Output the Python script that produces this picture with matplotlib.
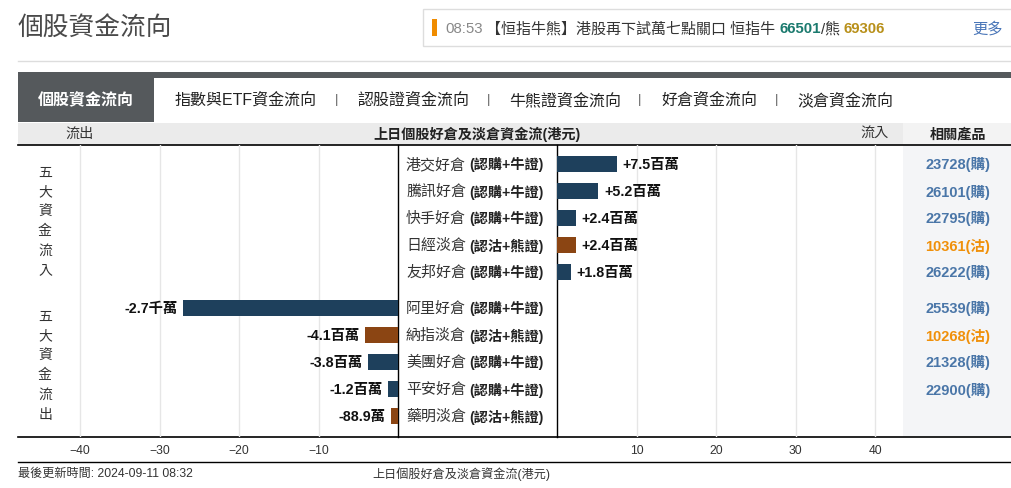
import matplotlib
matplotlib.use("Agg")
import matplotlib.pyplot as plt
import numpy as np
from matplotlib.patches import Rectangle

plt.rcParams['font.family'] = ['Liberation Sans', 'Noto Sans CJK TC', 'DejaVu Sans']

W, H = 1012, 489

# data (millions HKD)
in_names = ["港交好倉", "騰訊好倉", "快手好倉", "日經淡倉", "友邦好倉"]
in_types = ["(認購+牛證)", "(認購+牛證)", "(認購+牛證)", "(認沽+熊證)", "(認購+牛證)"]
in_values = [7.5, 5.2, 2.4, 2.4, 1.8]
in_labels = ["+7.5百萬", "+5.2百萬", "+2.4百萬", "+2.4百萬", "+1.8百萬"]
in_products = ["23728(購)", "26101(購)", "22795(購)", "10361(沽)", "26222(購)"]

out_names = ["阿里好倉", "納指淡倉", "美團好倉", "平安好倉", "藥明淡倉"]
out_types = ["(認購+牛證)", "(認沽+熊證)", "(認購+牛證)", "(認購+牛證)", "(認沽+熊證)"]
out_values = [-27.0, -4.1, -3.8, -1.2, -0.889]
out_labels = ["-2.7千萬", "-4.1百萬", "-3.8百萬", "-1.2百萬", "-88.9萬"]
out_products = ["25539(購)", "10268(沽)", "21328(購)", "22900(購)", ""]

left_ticks = [-40, -30, -20, -10]
right_ticks = [10, 20, 30, 40]

tabs = ["指數與ETF資金流向", "認股證資金流向", "牛熊證資金流向", "好倉資金流向", "淡倉資金流向"]

NAVY = "#1e405c"
BROWN = "#8b4513"
BLUE_TXT = "#4a76a8"
ORANGE_TXT = "#f0900a"


def rect(x0, y0, x1, y1):
    return [x0 / W, 1 - y1 / H, (x1 - x0) / W, (y1 - y0) / H]


fig = plt.figure(figsize=(W / 100, H / 100), dpi=100)
bg = fig.add_axes([0, 0, 1, 1])
bg.set_xlim(0, W)
bg.set_ylim(H, 0)
bg.axis("off")

# title and ticker
bg.text(18, 29, "個股資金流向", fontsize=18.5, color="#4a4a4a", va="center", ha="left")
bg.add_patch(Rectangle((423, 10), 600, 37, facecolor="white", edgecolor="#dddddd", lw=1))
bg.add_patch(Rectangle((432, 20), 5, 17, facecolor="#f08c00", edgecolor="none"))
bg.text(445, 29, "08:53", fontsize=10.8, color="#888888", va="center")
t = bg.text(486, 29, "【恒指牛熊】港股再下試萬七點關口 恒指牛 ", fontsize=10.8, color="#333333", va="center")
t2 = bg.annotate("66501", xycoords=t, xy=(1, 0.5), va="center", fontsize=10.8, color="#1b7a6e", fontweight="bold")
t3 = bg.annotate("/熊 ", xycoords=t2, xy=(1, 0.5), va="center", fontsize=10.8, color="#333333")
bg.annotate("69306", xycoords=t3, xy=(1, 0.5), va="center", fontsize=10.8, color="#b8901a", fontweight="bold")
bg.text(972, 29, "更多", fontsize=11, color="#4a76b8", va="center")
bg.plot([18, W], [62, 62], color="#dddddd", lw=1)

# tab bar
bg.add_patch(Rectangle((18, 73), W - 18, 6, facecolor="#55595c", edgecolor="none"))
bg.add_patch(Rectangle((18, 73), 136, 50, facecolor="#55595c", edgecolor="none"))
bg.text(86, 100, "個股資金流向", fontsize=11.5, color="white", fontweight="bold", ha="center", va="center")
tab_x = [175, 357, 509, 661, 797]
sep_x = [337, 489, 640, 777]
for x, s in zip(tab_x, tabs):
    bg.text(x, 100, s, fontsize=11.5, color="#222222", ha="left", va="center")
for x in sep_x:
    bg.text(x, 100, "|", fontsize=9.5, color="#666666", ha="center", va="center")

# header band
bg.add_patch(Rectangle((18, 124), 885, 22, facecolor="#ebebeb", edgecolor="none"))
bg.add_patch(Rectangle((903, 124), W - 903, 22, facecolor="#f3f3f3", edgecolor="none"))
bg.add_patch(Rectangle((903, 146), W - 903, 292, facecolor="#f4f5f7", edgecolor="none"))
bg.text(80, 134, "流出", fontsize=10.2, color="#333333", ha="center", va="center")
bg.text(477, 134, "上日個股好倉及淡倉資金流(港元)", fontsize=10.2, color="#222222", ha="center", va="center", fontweight="bold")
bg.text(875, 134, "流入", fontsize=10.2, color="#333333", ha="center", va="center")
bg.text(958, 134, "相關產品", fontsize=10.2, color="#222222", ha="center", va="center", fontweight="bold")
bg.plot([18, W], [146, 146], color="black", lw=1.2)
bg.plot([18, W], [438, 438], color="black", lw=1.2)
bg.plot([398, 398], [146, 438], color="black", lw=1)
bg.plot([557, 557], [146, 438], color="black", lw=1)
bg.plot([18, W], [463, 463], color="black", lw=1)

# vertical group labels
for k, ch in enumerate("五大資金流入"):
    bg.text(45, 173 + 19.5 * k, ch, fontsize=10, color="#333333", ha="center", va="center")
for k, ch in enumerate("五大資金流出"):
    bg.text(45, 317 + 19.5 * k, ch, fontsize=10, color="#333333", ha="center", va="center")

# footer
bg.text(18, 474, "最後更新時間: 2024-09-11 08:32", fontsize=8.7, color="#333333", va="center")
bg.text(372, 474, "上日個股好倉及淡倉資金流(港元)", fontsize=8.7, color="#333333", va="center")

# row positions
names = in_names + out_names
types = in_types + out_types
products = in_products + out_products
pos_in = np.arange(5)
pos_out = np.arange(5) + 5 + 1 / 3
ylim = ((438 - 165) / 27, (146 - 165) / 27)


def color_for(name):
    return BROWN if "淡倉" in name else NAVY


axL = fig.add_axes(rect(18, 146, 398, 438))
axR = fig.add_axes(rect(557, 146, 903, 438))
axL.set_xlim(-47.8, 0)
axR.set_xlim(0, 43.5)
for ax, ticks in ((axL, left_ticks), (axR, right_ticks)):
    ax.set_ylim(*ylim)
    ax.patch.set_alpha(0)
    for s in ax.spines.values():
        s.set_visible(False)
    ax.set_yticks([])
    ax.set_xticks(ticks)
    ax.tick_params(axis="x", length=0, pad=5, labelsize=8.7, labelcolor="#333333")
    ax.grid(axis="x", color="#e6e6e6", lw=1)
    ax.set_axisbelow(True)

axR.barh(pos_in, in_values, height=0.6, color=[color_for(n) for n in in_names])
for p, v, lab in zip(pos_in, in_values, in_labels):
    axR.annotate(lab, (v, p), xytext=(4, 0), textcoords="offset points", ha="left", va="center",
                 fontsize=10.3, fontweight="bold", color="#111111")
axL.barh(pos_out, out_values, height=0.6, color=[color_for(n) for n in out_names])
for p, v, lab in zip(pos_out, out_values, out_labels):
    axL.annotate(lab, (v, p), xytext=(-4, 0), textcoords="offset points", ha="right", va="center",
                 fontsize=10.3, fontweight="bold", color="#111111")

# centre labels and products
for i, (n, ty, pr) in enumerate(zip(names, types, products)):
    y = 165 + 27 * i if i < 5 else 309 + 27 * (i - 5)
    nt = bg.text(406, y, n, fontsize=10.8, color="#333333", ha="left", va="center")
    bg.annotate(ty, xycoords=nt, xy=(1, 0.5), xytext=(3, 0), textcoords="offset pixels",
                fontsize=10.2, color="#222222", ha="left", va="center", fontweight="bold")
    if pr:
        c = ORANGE_TXT if "沽" in pr else BLUE_TXT
        bg.text(958, y, pr, fontsize=10.5, color=c, ha="center", va="center", fontweight="bold")

fig.savefig("out.png", dpi=100)
